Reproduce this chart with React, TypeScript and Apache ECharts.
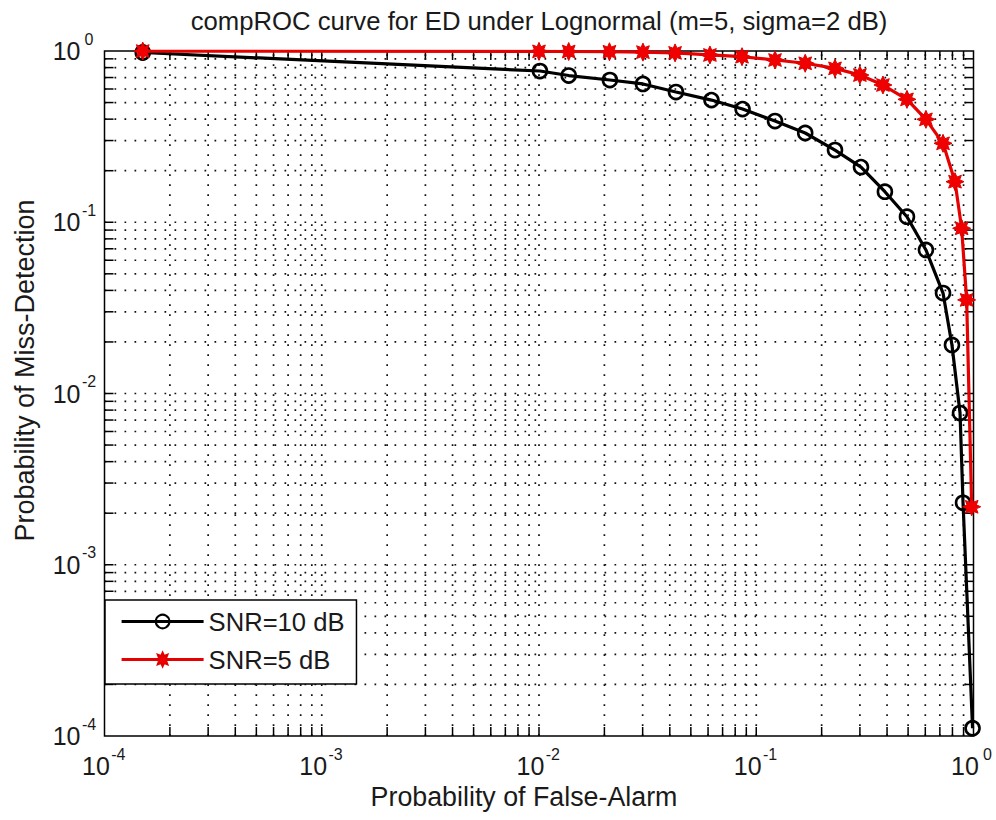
import { useEffect, useRef } from 'react';
import * as echarts from 'echarts';

const TITLE = 'compROC curve for ED under Lognormal (m=5, sigma=2 dB)';
const X_NAME = 'Probability of False-Alarm';
const Y_NAME = 'Probability of Miss-Detection';
const SERIES_NAMES = ['SNR=10 dB', 'SNR=5 dB'];

// Complementary ROC, SNR = 10 dB
const PFA_SNR10 = [
  1.5e-4, 0.0101, 0.0137, 0.0212, 0.0301, 0.0427, 0.0622, 0.0865, 0.122, 0.168,
  0.2304, 0.3035, 0.391, 0.494, 0.604, 0.724, 0.796, 0.867, 0.895, 0.99,
];
const PMD_SNR10 = [
  0.98, 0.764, 0.719, 0.677, 0.642, 0.576, 0.517, 0.458, 0.39, 0.332,
  0.264, 0.21, 0.1508, 0.1077, 0.0689, 0.0386, 0.0192, 0.00769, 0.0023, 1.11e-4,
];

// Complementary ROC, SNR = 5 dB
const PFA_SNR5 = [
  1.5e-4, 0.01, 0.0137, 0.0211, 0.0301, 0.0423, 0.0612, 0.086, 0.122, 0.168,
  0.2304, 0.3, 0.383, 0.494, 0.604, 0.724, 0.822, 0.882, 0.93, 0.981,
];
const PMD_SNR5 = [
  0.999, 0.995, 0.993, 0.99, 0.985, 0.975, 0.948, 0.926, 0.886, 0.848,
  0.792, 0.724, 0.633, 0.522, 0.399, 0.289, 0.1725, 0.0922, 0.0352, 0.00218,
];

const AXIS_MIN = 1e-4;
const AXIS_MAX = 1;
const DECADE_STARTS = [1e-4, 1e-3, 1e-2, 1e-1];
const GRID_MULTIPLIERS = [1, 2, 3, 4, 5, 6, 7, 8, 9];

const FONT = '"Liberation Sans", Arial, Helvetica, sans-serif';
const TEXT_COLOR = '#1a1a1a';
const TICK_LEN = 9;

// every decade and sub-decade grid value strictly inside the axis range
const GRID_VALUES: number[] = [];
DECADE_STARTS.forEach((d) => {
  GRID_MULTIPLIERS.forEach((m) => {
    const v = d * m;
    if (v > AXIS_MIN * 1.0001 && v < AXIS_MAX * 0.9999) GRID_VALUES.push(v);
  });
});

// chunky eight-armed asterisk marker
const STAR_PATH =
  'path://M50 0L60.7 24.1L85.36 14.64L75.9 39.3L100 50L75.9 60.7L85.36 85.36L60.7 75.9L50 100L39.3 75.9L14.64 85.36L24.1 60.7L0 50L24.1 39.3L14.64 14.64L39.3 24.1Z';

function zip(xs: number[], ys: number[]) {
  return xs.map((x, i) => [x, ys[i]]);
}

// dotted grid line plus inward ticks at both ends of the frame
function gridRenderer(vertical: boolean) {
  return (_params: any, api: any) => {
    const v = api.value(vertical ? 0 : 1);
    const a = vertical ? api.coord([v, AXIS_MIN]) : api.coord([AXIS_MIN, v]);
    const b = vertical ? api.coord([v, AXIS_MAX]) : api.coord([AXIS_MAX, v]);
    const dx = vertical ? 0 : TICK_LEN;
    const dy = vertical ? -TICK_LEN : 0;
    return {
      type: 'group',
      silent: true,
      children: [
        {
          type: 'line',
          shape: { x1: a[0], y1: a[1], x2: b[0], y2: b[1] },
          style: { stroke: '#111', lineWidth: 1.7, lineDash: [1.7, 8.3] },
        },
        {
          type: 'line',
          shape: { x1: a[0], y1: a[1], x2: a[0] + dx, y2: a[1] + dy },
          style: { stroke: '#000', lineWidth: 1.5 },
        },
        {
          type: 'line',
          shape: { x1: b[0], y1: b[1], x2: b[0] - dx, y2: b[1] - dy },
          style: { stroke: '#000', lineWidth: 1.5 },
        },
      ],
    };
  };
}

const tickLabel = (margin: number) => ({
  show: true,
  margin,
  showMinLabel: true,
  showMaxLabel: true,
  formatter: (v: number) => `{b|10}{s|${Math.round(Math.log10(v))}}`,
  rich: {
    b: { fontSize: 25, lineHeight: 40, fontFamily: FONT, color: TEXT_COLOR },
    s: {
      fontSize: 16,
      lineHeight: 18,
      verticalAlign: 'top',
      width: 17,
      align: 'left',
      fontFamily: FONT,
      color: TEXT_COLOR,
    },
  },
});

export default function App() {
  const ref = useRef<HTMLDivElement>(null);

  useEffect(() => {
    document.body.style.margin = '0';
    if (!ref.current) return;
    const chart = echarts.init(ref.current, undefined, { renderer: 'svg' });

    chart.setOption({
      animation: false,
      backgroundColor: '#ffffff',
      title: {
        text: TITLE,
        left: 539,
        top: 8,
        padding: 0,
        textAlign: 'center',
        textStyle: { fontSize: 25.7, fontWeight: 'normal', fontFamily: FONT, color: TEXT_COLOR },
      },
      grid: {
        left: 104.5,
        right: 22.5,
        top: 51,
        bottom: 84,
        show: true,
        borderColor: '#000',
        borderWidth: 1.5,
        backgroundColor: 'transparent',
        containLabel: false,
        outerBoundsMode: 'none',
      },
      legend: {
        data: SERIES_NAMES,
        orient: 'vertical',
        left: 105,
        top: 600,
        backgroundColor: '#ffffff',
        borderColor: '#000',
        borderWidth: 1.5,
        borderRadius: 0,
        padding: [8, 12, 11, 15],
        itemWidth: 82,
        itemHeight: 17,
        itemGap: 11,
        lineStyle: { width: 3.2 },
        textStyle: { fontSize: 25.6, lineHeight: 27, fontFamily: FONT, color: TEXT_COLOR },
      },
      xAxis: {
        type: 'log',
        logBase: 10,
        min: AXIS_MIN,
        max: AXIS_MAX,
        splitNumber: 4,
        name: X_NAME,
        nameLocation: 'middle',
        nameGap: 35,
        nameTextStyle: {
          fontSize: 26.8,
          fontFamily: FONT,
          color: TEXT_COLOR,
          padding: [0, 30, 0, 0],
        },
        axisLine: { show: false },
        axisTick: { show: false },
        splitLine: { show: false },
        minorTick: { show: false },
        axisLabel: tickLabel(10),
      },
      yAxis: {
        type: 'log',
        logBase: 10,
        min: AXIS_MIN,
        max: AXIS_MAX,
        splitNumber: 4,
        name: Y_NAME,
        nameLocation: 'middle',
        nameGap: 66,
        nameTextStyle: {
          fontSize: 27,
          fontFamily: FONT,
          color: TEXT_COLOR,
          padding: [0, 0, 0, 46],
        },
        axisLine: { show: false },
        axisTick: { show: false },
        splitLine: { show: false },
        minorTick: { show: false },
        axisLabel: tickLabel(7),
      },
      series: [
        {
          type: 'custom',
          name: 'xgrid',
          z: 1,
          renderItem: gridRenderer(true),
          data: GRID_VALUES.map((v) => [v, AXIS_MIN]),
          tooltip: { show: false },
        },
        {
          type: 'custom',
          name: 'ygrid',
          z: 1,
          renderItem: gridRenderer(false),
          data: GRID_VALUES.map((v) => [AXIS_MIN, v]),
          tooltip: { show: false },
        },
        {
          type: 'line',
          name: SERIES_NAMES[0],
          z: 3,
          data: zip(PFA_SNR10, PMD_SNR10),
          symbol: 'circle',
          symbolSize: 14,
          showAllSymbol: true,
          lineStyle: { color: '#000', width: 3.2 },
          itemStyle: { color: 'rgba(255,255,255,0)', borderColor: '#000', borderWidth: 2.6 },
        },
        {
          type: 'line',
          name: SERIES_NAMES[1],
          z: 4,
          data: zip(PFA_SNR5, PMD_SNR5),
          symbol: STAR_PATH,
          symbolSize: 18,
          showAllSymbol: true,
          lineStyle: { color: '#e60000', width: 3.2 },
          itemStyle: { color: '#f00000', borderColor: '#e00000', borderWidth: 1 },
        },
      ],
    });

    return () => chart.dispose();
  }, []);

  return <div ref={ref} style={{ width: 996, height: 820 }} />;
}
